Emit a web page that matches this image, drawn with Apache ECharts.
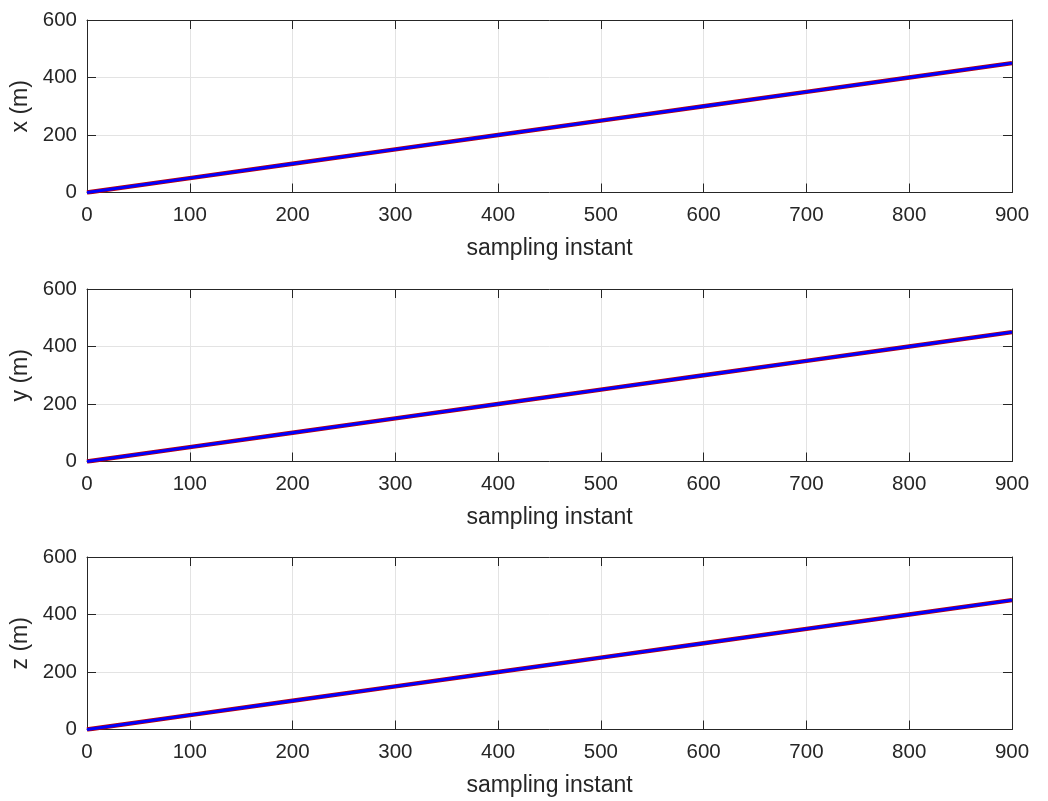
<!DOCTYPE html>
<html>
<head>
<meta charset="utf-8">
<script src="https://cdn.jsdelivr.net/npm/echarts@6/dist/echarts.min.js"></script>
<style>
  html, body { margin: 0; padding: 0; background: #fff; }
  #main { width: 1048px; height: 801px; }
</style>
</head>
<body>
<div id="main"></div>
<script>
// sampling instants
const samples = [0, 100, 200, 300, 400, 500, 600, 700, 800, 900];
// reference (red) and estimate (blue) positions, metres
const xRef = [0, 50, 100, 150, 200, 250, 300, 350, 400, 450];
const xEst = [0, 50, 100, 150, 200, 250, 300, 350, 400, 450];
const yRef = [0, 50, 100, 150, 200, 250, 300, 350, 400, 450];
const yEst = [0, 50, 100, 150, 200, 250, 300, 350, 400, 450];
const zRef = [0, 50, 100, 150, 200, 250, 300, 350, 400, 450];
const zEst = [0, 50, 100, 150, 200, 250, 300, 350, 400, 450];
const axisNames = ['x (m)', 'y (m)', 'z (m)'];

const txt = '#262626';
const font = 'Liberation Sans, Arial, Helvetica, sans-serif';
const gridTops = [20, 289, 557];
const plotH = 172.5;

let grids = [], xAxes = [], yAxes = [], series = [];
let pairs = [[xRef, xEst], [yRef, yEst], [zRef, zEst]];

for (let i = 0; i < 3; i++) {
  grids.push({ left: 87, width: 925, top: gridTops[i], height: plotH, show: false,
    containLabel: false, outerBoundsMode: 'none' });
  // bottom x axis
  xAxes.push({
    type: 'value', gridIndex: i, min: 0, max: 900, interval: 100,
    name: 'sampling instant', nameLocation: 'middle', nameGap: 45,
    nameTextStyle: { color: txt, fontSize: 23, fontFamily: font },
    axisLine: { show: true, lineStyle: { color: txt, width: 1 } },
    axisTick: { show: true, inside: true, length: 9, lineStyle: { color: txt } },
    axisLabel: { color: txt, fontSize: 20.5, fontFamily: font, margin: 12 },
    splitLine: { show: true, lineStyle: { color: '#e3e3e3', width: 1 } }
  });
  // top mirror
  xAxes.push({
    type: 'value', gridIndex: i, min: 0, max: 900, interval: 100, position: 'top',
    axisLine: { show: true, onZero: false, lineStyle: { color: txt, width: 1 } },
    axisTick: { show: true, inside: true, length: 9, lineStyle: { color: txt } },
    axisLabel: { show: false }, splitLine: { show: false }
  });
  yAxes.push({
    type: 'value', gridIndex: i, min: 0, max: 600, interval: 200,
    name: axisNames[i], nameLocation: 'middle', nameGap: 53, nameRotate: 90,
    nameTextStyle: { color: txt, fontSize: 23, fontFamily: font },
    axisLine: { show: true, onZero: false, lineStyle: { color: txt, width: 1 } },
    axisTick: { show: true, inside: true, length: 9, lineStyle: { color: txt } },
    axisLabel: { color: txt, fontSize: 20.5, fontFamily: font, margin: 10 },
    splitLine: { show: true, lineStyle: { color: '#e3e3e3', width: 1 } }
  });
  yAxes.push({
    type: 'value', gridIndex: i, min: 0, max: 600, interval: 200, position: 'right',
    axisLine: { show: true, onZero: false, lineStyle: { color: txt, width: 1 } },
    axisTick: { show: true, inside: true, length: 9, lineStyle: { color: txt } },
    axisLabel: { show: false }, splitLine: { show: false }
  });

  const ref = pairs[i][0], est = pairs[i][1];
  series.push({
    type: 'line', xAxisIndex: 2 * i, yAxisIndex: 2 * i, showSymbol: false,
    data: samples.map((s, k) => [s, ref[k]]),
    lineStyle: { color: '#c00000', width: 4.5 }, silent: true, animation: false
  });
  series.push({
    type: 'line', xAxisIndex: 2 * i, yAxisIndex: 2 * i, showSymbol: false,
    data: samples.map((s, k) => [s, est[k]]),
    lineStyle: { color: '#0000ff', width: 3 }, silent: true, animation: false
  });
}

const chart = echarts.init(document.getElementById('main'));
chart.setOption({
  backgroundColor: '#fff',
  animation: false,
  grid: grids,
  xAxis: xAxes,
  yAxis: yAxes,
  series: series
});
</script>
</body>
</html>
